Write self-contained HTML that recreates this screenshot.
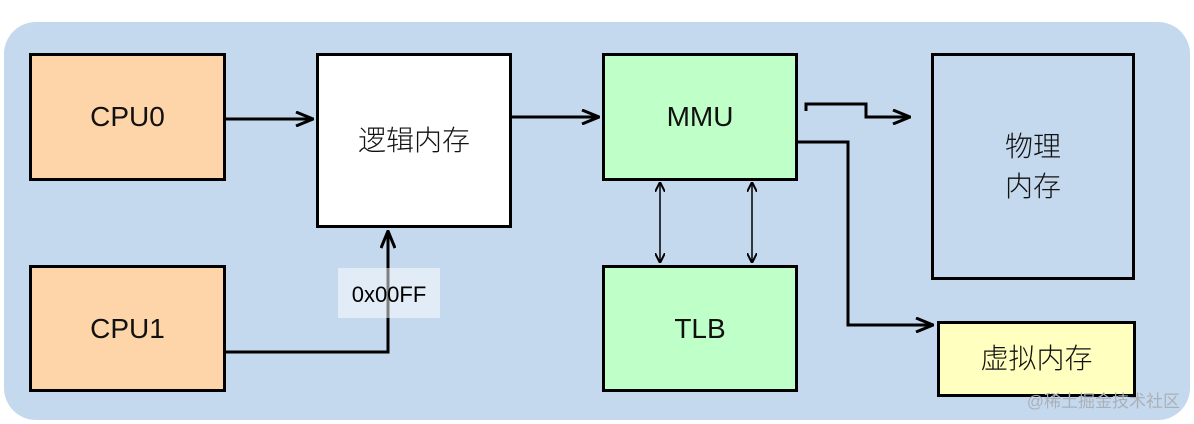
<!DOCTYPE html>
<html><head><meta charset="utf-8"><style>
body{margin:0;width:1194px;height:424px;background:#fff;position:relative;overflow:hidden;font-family:"Liberation Sans","Noto Sans CJK SC",sans-serif}
.bg{position:absolute;left:4px;top:22px;width:1186px;height:398px;background:#c5d9ee;border-radius:32px}
.b{position:absolute;box-sizing:border-box;border:3px solid #000;display:flex;align-items:center;justify-content:center;font-size:28px;color:#111;text-align:center;line-height:40px;font-weight:300}
</style></head><body>
<div class="bg"></div>
<div class="b" style="left:29px;top:53px;width:197px;height:128px;background:#fdd5a8">CPU0</div>
<div class="b" style="left:29px;top:265px;width:197px;height:127px;background:#fdd5a8">CPU1</div>
<div class="b" style="left:316px;top:53px;width:196px;height:175px;background:#fff">逻辑内存</div>
<div class="b" style="left:602px;top:53px;width:196px;height:128px;background:#bfffc8">MMU</div>
<div class="b" style="left:602px;top:265px;width:196px;height:127px;background:#bfffc8">TLB</div>
<div class="b" style="left:931px;top:53px;width:204px;height:227px;background:#c5d9ee">物理<br>内存</div>
<div class="b" style="left:937px;top:321px;width:199px;height:76px;background:#ffffc0">虚拟内存</div>
<svg style="position:absolute;left:0;top:0" width="1194" height="424">
<defs><marker id="a" markerWidth="10" markerHeight="10" refX="9" refY="5" orient="auto-start-reverse" markerUnits="userSpaceOnUse"><path d="M0,0 L10,5 L0,10" fill="none" stroke="#000" stroke-width="2"/></marker>
<marker id="t" markerWidth="20" markerHeight="16" refX="19" refY="8" orient="auto-start-reverse" markerUnits="userSpaceOnUse"><path d="M2,1 L19,8 L2,15" fill="none" stroke="#000" stroke-width="3"/></marker></defs>
<g fill="none" stroke="#000" stroke-width="3">
<path d="M226,119 H313" marker-end="url(#t)"/>
<path d="M512,117 H599" marker-end="url(#t)"/>
<path d="M806,111 V104 H866 V117 H910" marker-end="url(#t)"/>
<path d="M798,142 H848 V325 H933" marker-end="url(#t)"/>
<path d="M226,352 H388 V231" marker-end="url(#t)"/>
</g>
<g stroke="#000" stroke-width="1.5">
<path d="M660,183 V262" marker-start="url(#a)" marker-end="url(#a)"/>
<path d="M752,183 V262" marker-start="url(#a)" marker-end="url(#a)"/>
</g>
<rect x="338" y="268" width="102" height="50" fill="#fff" fill-opacity="0.5"/>
<text x="389" y="302" font-size="22" text-anchor="middle" font-family="Liberation Sans, sans-serif" fill="#000">0x00FF</text>
<text x="1180" y="407" font-size="17" text-anchor="end" fill="#aab0b8" font-family="Liberation Sans, Noto Sans CJK SC, sans-serif">@稀土掘金技术社区</text>
</svg>
</body></html>
